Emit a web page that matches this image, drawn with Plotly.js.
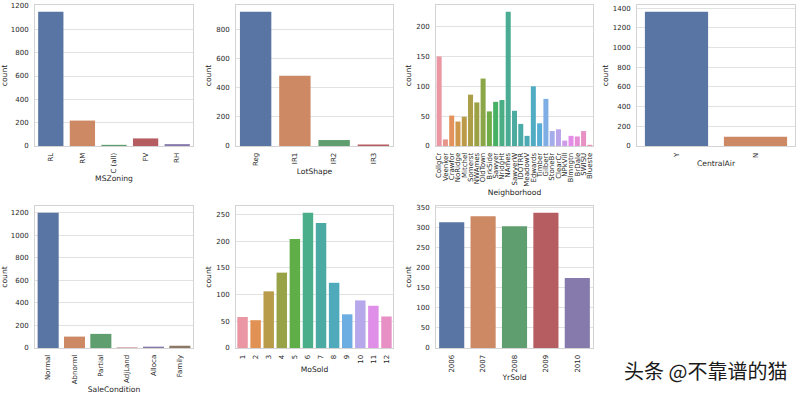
<!DOCTYPE html>
<html>
<head>
<meta charset="utf-8">
<script src="https://cdn.plot.ly/plotly-3.0.1.min.js"></script>
<style>
html,body{margin:0;padding:0;background:#fff;}
#chart{width:800px;height:394px;}
</style>
</head>
<body>
<div id="chart"></div>
<script>
// ---------- data ----------
const msZoningCats = ["RL", "RM", "C (all)", "FV", "RH"];
const msZoningCounts = [1151, 218, 10, 65, 16];

const lotShapeCats = ["Reg", "IR1", "IR2", "IR3"];
const lotShapeCounts = [925, 484, 41, 10];

const neighborhoodCats = ["CollgCr", "Veenker", "Crawfor", "NoRidge", "Mitchel", "Somerst", "NWAmes", "OldTown", "BrkSide", "Sawyer", "NridgHt", "NAmes", "SawyerW", "IDOTRR", "MeadowV", "Edwards", "Timber", "Gilbert", "StoneBr", "ClearCr", "NPkVill", "Blmngtn", "BrDale", "SWISU", "Blueste"];
const neighborhoodCounts = [150, 11, 51, 41, 49, 86, 73, 113, 58, 74, 77, 225, 59, 37, 17, 100, 38, 79, 25, 28, 9, 17, 16, 25, 2];

const centralAirCats = ["Y", "N"];
const centralAirCounts = [1365, 95];

const saleConditionCats = ["Normal", "Abnorml", "Partial", "AdjLand", "Alloca", "Family"];
const saleConditionCounts = [1198, 101, 125, 4, 12, 20];

const moSoldCats = ["1", "2", "3", "4", "5", "6", "7", "8", "9", "10", "11", "12"];
const moSoldCounts = [58, 52, 106, 141, 204, 253, 234, 122, 63, 89, 79, 59];

const yrSoldCats = ["2006", "2007", "2008", "2009", "2010"];
const yrSoldCounts = [314, 329, 304, 338, 175];

const axisTitles = ["MSZoning", "LotShape", "Neighborhood", "CentralAir", "SaleCondition", "MoSold", "YrSold"];
const watermark = "头条 @不靠谱的猫";

// ---------- colours (seaborn deep / husl, desaturated 0.75) ----------
const deep = ["#4C72B0", "#DD8452", "#55A868", "#C44E52", "#8172B3", "#937860", "#DA8BC3", "#8C8C8C", "#CCB974", "#64B5CD"];
function hexToRgb(h){return [1,3,5].map(i=>parseInt(h.substr(i,2),16)/255);}
function desat(rgb, p){
  const mx=Math.max(...rgb), mn=Math.min(...rgb), l=(mx+mn)/2;
  return rgb.map(c=>l+p*(c-l));
}
function toCss(rgb){return "rgb("+rgb.map(c=>Math.round(Math.min(1,Math.max(0,c))*255)).join(",")+")";}
const M = [[3.2406,-1.5372,-0.4986],[-0.9689,1.8758,0.0415],[0.0557,-0.2040,1.0570]];
function maxChroma(L,H){
  const hr=H*Math.PI/180, sinH=Math.sin(hr), cosH=Math.cos(hr);
  const sub1=Math.pow(L+16,3)/1560896, sub2=sub1>0.008856?sub1:L/903.3;
  let res=Infinity;
  for(const [m1,m2,m3] of M){
    const top=(0.99915*m1+1.05122*m2+1.14460*m3)*sub2;
    const rb=0.86330*m3-0.17266*m2, lb=0.12949*m3-0.38848*m1;
    const bottom=(rb*sinH+lb*cosH)*sub2;
    for(const t of [0,1]){
      const C=L*(top-1.05122*t)/(bottom+0.17266*sinH*t);
      if(C>0&&C<res) res=C;
    }
  }
  return res;
}
function husl(H,S,L){
  const C=maxChroma(L,H)/100*S;
  const hr=H*Math.PI/180, U=Math.cos(hr)*C, V=Math.sin(hr)*C;
  const t=(L+16)/116, Y=Math.pow(t,3)>0.008856?Math.pow(t,3):(116*t-16)/903.3;
  const vU=U/(13*L)+0.19784, vV=V/(13*L)+0.46834;
  const X=-(9*Y*vU)/((vU-4)*vV-vU*vV);
  const Z=(9*Y-15*vV*Y-vV*X)/(3*vV);
  return M.map(r=>{const c=r[0]*X+r[1]*Y+r[2]*Z;
    const v=c<=0.0031308?12.92*c:1.055*Math.pow(c,1/2.4)-0.055;
    return Math.min(1,Math.max(0,v));});
}
function palette(n){
  if(n<=deep.length) return deep.slice(0,n).map(h=>toCss(desat(hexToRgb(h),0.75)));
  const out=[];
  for(let i=0;i<n;i++){
    const h=((i/n+0.01)%1)*359;
    out.push(toCss(desat(husl(h,0.9*99,0.7*99),0.75)));
  }
  return out;
}

// ---------- layout ----------
const W=800,H=394;
const cols=[[35,193],[236,393],[436,593],[637,795]];
const rows=[[5,146],[206,348]];
const panels=[
  {cats:msZoningCats, vals:msZoningCounts, c:0, r:0, dtick:200},
  {cats:lotShapeCats, vals:lotShapeCounts, c:1, r:0, dtick:200},
  {cats:neighborhoodCats, vals:neighborhoodCounts, c:2, r:0, dtick:50},
  {cats:centralAirCats, vals:centralAirCounts, c:3, r:0, dtick:200},
  {cats:saleConditionCats, vals:saleConditionCounts, c:0, r:1, dtick:200},
  {cats:moSoldCats, vals:moSoldCounts, c:1, r:1, dtick:50},
  {cats:yrSoldCats, vals:yrSoldCounts, c:2, r:1, dtick:50}
];
const txt='#262626', font='DejaVu Sans';
const data=[];
const layout={width:W,height:H,margin:{l:0,r:0,t:0,b:0},paper_bgcolor:'#fff',plot_bgcolor:'#fff',
  showlegend:false,bargap:0.2,annotations:[]};
panels.forEach((p,i)=>{
  const k=i===0?'':String(i+1);
  data.push({type:'bar',x:p.cats,y:p.vals,xaxis:'x'+k,yaxis:'y'+k,
    marker:{color:palette(p.cats.length),line:{width:0}},hoverinfo:'skip'});
  const [x0,x1]=cols[p.c],[y0,y1]=rows[p.r];
  const line={showline:true,mirror:true,linecolor:'#d3d3d3',linewidth:1,zeroline:false,ticks:'',
    tickfont:{family:font,size:7,color:txt},fixedrange:true};
  layout['xaxis'+k]=Object.assign({},line,{domain:[x0/W,x1/W],anchor:'y'+k,type:'category',
    range:[-0.5,p.cats.length-0.5],showgrid:false,tickangle:-90,tickmode:'array',
    tickvals:p.cats,ticktext:p.cats,ticklabelstandoff:3,
    title:{text:axisTitles[i],font:{family:font,size:7.6,color:txt},standoff:3}});
  layout['yaxis'+k]=Object.assign({},line,{domain:[1-y1/H,1-y0/H],anchor:'x'+k,
    range:[0,Math.max(...p.vals)*1.05],showgrid:true,gridcolor:'#e2e2e2',gridwidth:1,
    dtick:p.dtick,tick0:0,ticklabelstandoff:4,
    title:{text:'count',font:{family:font,size:7.6,color:txt},standoff:3}});
});
layout.annotations.push({text:watermark,xref:'paper',yref:'paper',x:705/W,y:1-370/H,
  xanchor:'center',yanchor:'middle',showarrow:false,
  font:{family:'Noto Sans CJK SC',size:20,color:'#1a1a1a'}});
Plotly.newPlot('chart',data,layout,{staticPlot:true,displayModeBar:false});
</script>
</body>
</html>
